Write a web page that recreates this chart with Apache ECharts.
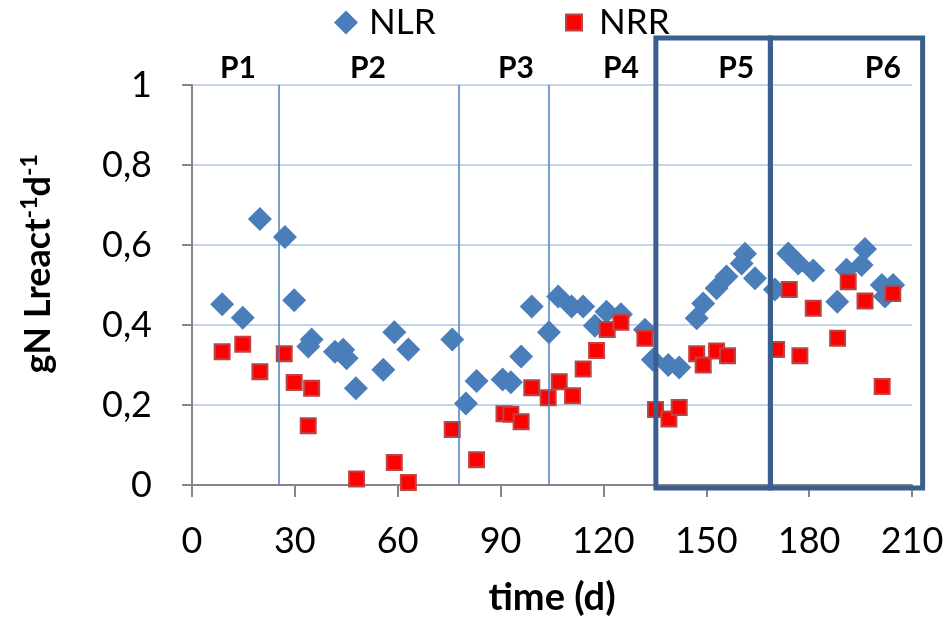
<!DOCTYPE html>
<html><head><meta charset="utf-8">
<script src="https://cdn.jsdelivr.net/npm/echarts@6/dist/echarts.min.js"></script>
<style>html,body{margin:0;padding:0;background:#fff}#c{width:947px;height:621px}</style>
</head><body><div id="c"></div>
<script>
// ---- data ----
var nlrDays = [8.8, 14.8, 19.8, 27.1, 29.8, 33.9, 34.9, 41.7, 44.1, 45.1, 47.8, 55.8, 59.0, 63.1,
  75.9, 79.9, 83.0, 90.6, 93.0, 96.0, 99.1, 104.1, 106.8, 110.7, 114.1, 117.5, 120.9, 125.1,
  132.1, 134.4, 138.9, 142.1, 147.2, 149.1, 153.0, 155.9, 160.3, 161.3, 164.2, 170.0, 173.9,
  176.8, 181.2, 188.2, 190.9, 195.3, 196.3, 201.2, 202.1, 204.5];
var nlrValues = [0.452, 0.418, 0.665, 0.620, 0.462, 0.346, 0.364, 0.333, 0.338, 0.317, 0.242, 0.288, 0.382, 0.339,
  0.364, 0.204, 0.260, 0.264, 0.257, 0.321, 0.446, 0.382, 0.471, 0.446, 0.446, 0.398, 0.433, 0.427,
  0.388, 0.313, 0.300, 0.294, 0.417, 0.454, 0.492, 0.521, 0.554, 0.578, 0.517, 0.489, 0.579,
  0.554, 0.536, 0.458, 0.538, 0.550, 0.590, 0.500, 0.471, 0.500];
var nrrDays = [8.8, 14.8, 19.8, 26.9, 29.8, 33.9, 34.9, 48.0, 59.0, 63.1, 75.9, 83.0, 91.0, 93.0,
  96.0, 99.1, 103.9, 107.1, 111.0, 114.1, 118.0, 121.1, 125.1, 132.1, 135.2, 139.1, 142.1,
  147.2, 149.1, 153.0, 156.2, 170.5, 174.2, 177.3, 181.2, 188.3, 191.4, 196.3, 201.3, 204.4];
var nrrValues = [0.333, 0.352, 0.283, 0.328, 0.256, 0.148, 0.242, 0.015, 0.056, 0.006, 0.139, 0.063, 0.178, 0.177,
  0.158, 0.243, 0.218, 0.258, 0.223, 0.290, 0.336, 0.389, 0.407, 0.367, 0.189, 0.165, 0.194,
  0.328, 0.300, 0.335, 0.323, 0.339, 0.489, 0.323, 0.442, 0.367, 0.508, 0.460, 0.246, 0.479];
var periodNames = ['P1', 'P2', 'P3', 'P4', 'P5', 'P6'];
var periodLabelDays = [13.4, 51.3, 94.5, 125.1, 158.7, 201.5];
var boundaryDays = [25.3, 77.7, 104.0];
var boxEdgeDays = [135.3, 168.7, 213.1];
var boxTopValue = 1.1175, boxBottomValue = -0.0075, periodLabelValue = 1.0425;
var xTicks = [0, 30, 60, 90, 120, 150, 180, 210];
var yTicks = [0, 0.2, 0.4, 0.6, 0.8, 1];

(function () {
var FONT = 'Lato';
var chart = echarts.init(document.getElementById('c'), null, {renderer: 'canvas'});

function zip(a, b) { return a.map(function (v, i) { return [v, b[i]]; }); }

var option = {
  animation: false,
  backgroundColor: '#ffffff',
  grid: {left: 192, right: 35, top: 85, bottom: 136, containLabel: false, outerBoundsMode: 'none'},
  legend: [
    {left: 329, top: 0, itemWidth: 24, itemHeight: 24, selectedMode: false,
     data: [{name: 'NLR', icon: 'diamond'}],
     textStyle: {fontFamily: FONT, fontSize: 35, color: '#000', padding: [0, 0, 0, 6]}},
    {left: 560, top: 0, itemWidth: 16, itemHeight: 16, selectedMode: false,
     data: [{name: 'NRR', icon: 'rect'}],
     textStyle: {fontFamily: FONT, fontSize: 35, color: '#000', padding: [0, 0, 0, 12]}}
  ],
  xAxis: {
    type: 'value', min: 0, max: 210, interval: 30,
    name: 'time (d)', nameLocation: 'middle', nameGap: 94,
    nameTextStyle: {fontFamily: FONT, fontSize: 38, fontWeight: 'bold', color: '#000'},
    axisLine: {show: true, lineStyle: {color: '#868686', width: 2}},
    axisTick: {show: true, length: 12, lineStyle: {color: '#868686', width: 2}},
    axisLabel: {margin: 38, fontFamily: FONT, fontSize: 36, color: '#000',
      formatter: function (v) { return xTicks.indexOf(v) >= 0 ? String(v) : ''; }},
    splitLine: {show: false}
  },
  yAxis: {
    type: 'value', min: 0, max: 1, interval: 0.2,
    axisLine: {show: true, lineStyle: {color: '#868686', width: 2}},
    axisTick: {show: true, length: 10, lineStyle: {color: '#868686', width: 2}},
    axisLabel: {margin: 40, fontFamily: FONT, fontSize: 36, color: '#000',
      formatter: function (v) { return String(Math.round(v * 10) / 10).replace('.', ','); }},
    splitLine: {show: true, lineStyle: {color: '#c3d4ec', width: 2}}
  },
  series: [
    {name: 'NLR', type: 'scatter', data: zip(nlrDays, nlrValues), symbol: 'diamond', symbolSize: 24,
     itemStyle: {color: '#4a7ebb', opacity: 1}, z: 3,
     markLine: {silent: true, symbol: 'none', label: {show: false},
       lineStyle: {color: '#4a7ebb', width: 1.5, type: 'solid'},
       data: boundaryDays.map(function (d) { return {xAxis: d}; })}},
    {name: 'NRR', type: 'scatter', data: zip(nrrDays, nrrValues), symbol: 'rect', symbolSize: 15,
     itemStyle: {color: '#ff0000', opacity: 1, borderColor: '#b94644', borderWidth: 2}, z: 4}
  ]
};
chart.setOption(option);

function px(d, v) { return chart.convertToPixel({gridIndex: 0}, [d, v]); }
var g = [];
var yTop = px(0, boxTopValue)[1], yBot = px(0, boxBottomValue)[1];
for (var i = 0; i < boxEdgeDays.length - 1; i++) {
  var x0 = px(boxEdgeDays[i], 0)[0], x1 = px(boxEdgeDays[i + 1], 0)[0];
  g.push({type: 'rect', z: 100, shape: {x: x0, y: yTop, width: x1 - x0, height: yBot - yTop},
    style: {fill: null, stroke: '#3b5f8c', lineWidth: 5}});
}
periodNames.forEach(function (n, k) {
  var p = px(periodLabelDays[k], periodLabelValue);
  g.push({type: 'text', z: 101, x: p[0], y: p[1],
    style: {text: n, fill: '#000', font: 'bold 30px ' + FONT, align: 'center', verticalAlign: 'middle'}});
});
var yc = px(0, 0.553)[1];
g.push({type: 'text', z: 101, x: 38, y: yc, rotation: Math.PI / 2,
  style: {text: 'gN Lreact{s|-1}d{s|-1}', fill: '#000', font: 'bold 36px ' + FONT,
    align: 'center', verticalAlign: 'middle',
    rich: {s: {fontFamily: FONT, fontWeight: 'bold', fontSize: 23, fill: '#000', padding: [0, 0, 16, 0]}}}});
chart.setOption({graphic: g});
})();
</script></body></html>
